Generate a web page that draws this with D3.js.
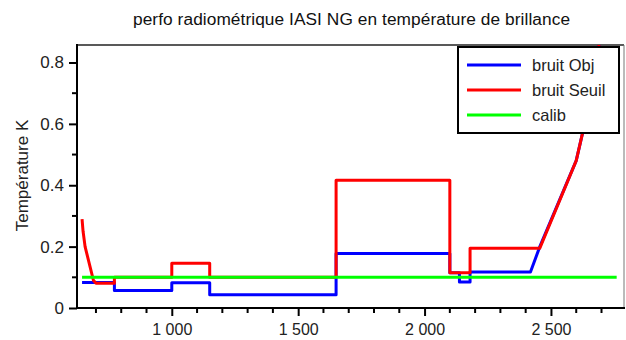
<!DOCTYPE html>
<html><head><meta charset="utf-8">
<script src="https://cdn.jsdelivr.net/npm/d3@7"></script>
<style>body{margin:0;background:#fff}svg{display:block;font-family:"Liberation Sans",Arial,sans-serif}</style>
</head><body><svg id="c" width="626" height="340"></svg>
<script>
const title = "perfo radiométrique IASI NG en température de brillance";
const yLabel = "Température K";
const seriesNames = ["bruit Obj", "bruit Seuil", "calib"];
const seriesColors = ["#0000ff", "#ff0000", "#00ff00"];
// wavenumbers (cm-1) and values (K)
const objX = [645, 773, 773, 1000, 1000, 1150, 1150, 1650, 1650, 2100, 2100, 2138, 2138, 2180, 2180, 2419, 2456, 2600, 2625, 2700, 2760];
const objY = [0.083, 0.083, 0.057, 0.057, 0.082, 0.082, 0.043, 0.043, 0.178, 0.178, 0.115, 0.115, 0.085, 0.085, 0.117, 0.117, 0.2, 0.48, 0.57, 0.9, 1.1];
const seuilX = [645, 649, 657, 690, 700, 773, 773, 1000, 1000, 1150, 1150, 1650, 1650, 2100, 2100, 2180, 2180, 2456, 2600, 2625, 2700, 2760];
const seuilY = [0.29, 0.25, 0.2, 0.09, 0.081, 0.081, 0.1, 0.1, 0.146, 0.146, 0.1, 0.1, 0.416, 0.416, 0.115, 0.115, 0.195, 0.195, 0.48, 0.57, 0.9, 1.1];
const calibX = [645, 2760];
const calibY = [0.1, 0.1];
const xMajor = [1000, 1500, 2000, 2500];
const xMajorLabels = ["1 000", "1 500", "2 000", "2 500"];
const yMajor = [0, 0.2, 0.4, 0.6, 0.8];
const yMajorLabels = ["0", "0.2", "0.4", "0.6", "0.8"];

const svg = d3.select("#c");
const L = 77, R = 624, T = 45, B = 308;
const x = d3.scaleLinear().domain([625, 2789]).range([L, R]);
const y = d3.scaleLinear().domain([0, 0.857]).range([B, T]);

svg.append("defs").append("clipPath").attr("id","clip").append("rect")
  .attr("x", L).attr("y", T).attr("width", R - L).attr("height", B - T);

svg.append("text").attr("x", 133).attr("y", 25).attr("text-anchor", "start")
  .attr("font-size", 17.3).attr("textLength", 437).attr("lengthAdjust", "spacing")
  .attr("fill", "#111").text(title);

svg.append("text").attr("transform", `translate(22,${(T + B) / 2 - 1}) rotate(-90)`)
  .attr("text-anchor", "middle").attr("dominant-baseline", "central")
  .attr("font-size", 17).attr("fill", "#222").text(yLabel);

// frame top/right
svg.append("line").attr("x1", L).attr("x2", R).attr("y1", T).attr("y2", T).attr("stroke", "#222").attr("stroke-width", 1.5);
svg.append("line").attr("x1", R).attr("x2", R).attr("y1", T).attr("y2", B).attr("stroke", "#777").attr("stroke-width", 1);

const line = d3.line().x(d => x(d[0])).y(d => y(d[1]));
const sets = [[objX, objY], [seuilX, seuilY], [calibX, calibY]];
const g = svg.append("g").attr("clip-path", "url(#clip)");
sets.forEach((s, i) => {
  g.append("path").datum(s[0].map((v, k) => [v, s[1][k]]))
    .attr("d", line).attr("fill", "none").attr("stroke", seriesColors[i])
    .attr("stroke-width", 3).attr("stroke-linejoin", "round");
});

// x axis
const xAxis = d3.axisBottom(x).tickValues(xMajor).tickSize(8).tickPadding(8)
  .tickFormat((d, i) => xMajorLabels[i]);
const gx = svg.append("g").attr("transform", `translate(0,${B})`).call(xAxis);
gx.select(".domain").remove();
gx.selectAll("line").attr("stroke", "#000").attr("stroke-width", 2);
gx.selectAll("text").attr("font-size", 16).attr("fill", "#222").attr("font-family", "Liberation Sans, Arial, sans-serif");
const xMinor = d3.range(700, 2800, 100).filter(v => v % 500 !== 0);
svg.append("g").selectAll("line").data(xMinor).join("line")
  .attr("x1", d => x(d)).attr("x2", d => x(d)).attr("y1", B).attr("y2", B + 5)
  .attr("stroke", "#000").attr("stroke-width", 2);

// y axis
const yAxis = d3.axisLeft(y).tickValues(yMajor).tickSize(8).tickPadding(5)
  .tickFormat((d, i) => yMajorLabels[i]);
const gy = svg.append("g").attr("transform", `translate(${L},0)`).call(yAxis);
gy.select(".domain").remove();
gy.selectAll("line").attr("stroke", "#000").attr("stroke-width", 2);
gy.selectAll("text").attr("font-size", 17).attr("fill", "#222").attr("font-family", "Liberation Sans, Arial, sans-serif");
const yMinor = [0.1, 0.3, 0.5, 0.7];
svg.append("g").selectAll("line").data(yMinor).join("line")
  .attr("x1", L - 5).attr("x2", L).attr("y1", d => y(d)).attr("y2", d => y(d))
  .attr("stroke", "#000").attr("stroke-width", 2);

// axis lines
svg.append("line").attr("x1", L).attr("x2", R + 1).attr("y1", B).attr("y2", B).attr("stroke", "#000").attr("stroke-width", 2);
svg.append("line").attr("x1", L).attr("x2", L).attr("y1", T - 1).attr("y2", B + 1).attr("stroke", "#000").attr("stroke-width", 2);

// legend
const lg = svg.append("g");
lg.append("rect").attr("x", 458).attr("y", 47).attr("width", 161).attr("height", 86)
  .attr("fill", "#fff").attr("stroke", "#000").attr("stroke-width", 2);
seriesNames.forEach((n, i) => {
  const yy = 65 + i * 25;
  lg.append("line").attr("x1", 467).attr("x2", 521).attr("y1", yy).attr("y2", yy)
    .attr("stroke", seriesColors[i]).attr("stroke-width", 3);
  lg.append("text").attr("x", 532).attr("y", yy).attr("dominant-baseline", "central")
    .attr("font-size", 16.5).attr("fill", "#222").text(n);
});
</script></body></html>
